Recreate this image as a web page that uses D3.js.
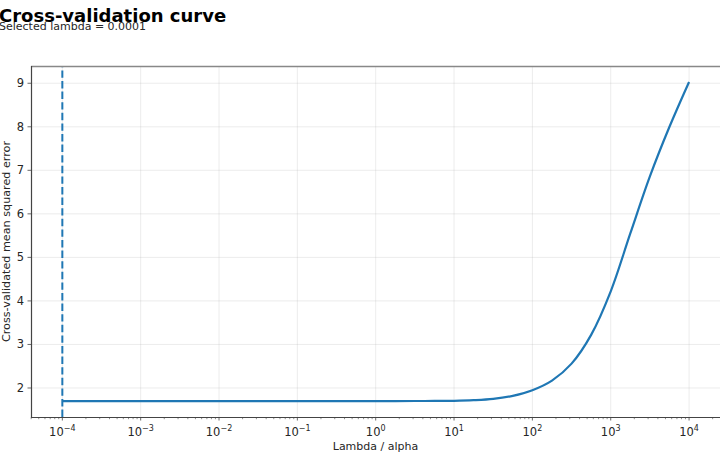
<!DOCTYPE html>
<html>
<head>
<meta charset="utf-8">
<script src="https://cdn.jsdelivr.net/npm/d3@7.9.0/dist/d3.min.js"></script>
<style>
  html, body { margin: 0; padding: 0; background: #fff; }
  svg { display: block; font-family: "DejaVu Sans", sans-serif; }
</style>
</head>
<body>
<div id="chart"></div>
<script>
// log10(lambda) grid and the cross-validated MSE
const logLambdas = [-4, -3.75, -3.5, -3.25, -3, -2.75, -2.5, -2.25, -2, -1.75, -1.5, -1.25, -1,
  -0.75, -0.5, -0.25, 0, 0.25, 0.5, 0.75, 1, 1.25, 1.5, 1.75, 2, 2.25, 2.5, 2.75, 3, 3.25, 3.5, 3.75, 4];
const cvErrors = [1.700, 1.700, 1.700, 1.700, 1.700, 1.700, 1.700, 1.700, 1.700, 1.700, 1.700, 1.700, 1.700,
  1.700, 1.700, 1.700, 1.700, 1.700, 1.701, 1.702, 1.706, 1.72, 1.75, 1.82, 1.95, 2.17, 2.56, 3.22, 4.22, 5.55, 6.86, 8.00, 9.03];
const selectedLambda = 0.0001;
const yTicks = [2, 3, 4, 5, 6, 7, 8, 9];
const xTickExps = [-4, -3, -2, -1, 0, 1, 2, 3, 4];

const data = logLambdas.map((e, i) => ({ lambda: Math.pow(10, e), mse: cvErrors[i] }));

const width = 720;
const height = 460;
const margin = { top: 66, right: 0, bottom: 43, left: 31 };
const blue = "#1f77b4";

// matplotlib-style 5% margins (in log space for x)
const lx = d3.extent(logLambdas);
const padX = (lx[1] - lx[0]) * 0.05;
const ly = d3.extent(cvErrors);
const padY = (ly[1] - ly[0]) * 0.05;

const xScale = d3.scaleLog()
  .domain([Math.pow(10, lx[0] - padX), Math.pow(10, lx[1] + padX)])
  .range([margin.left, width - margin.right + 0.4]);
const yScale = d3.scaleLinear()
  .domain([ly[0] - padY, ly[1] + padY])
  .range([height - margin.bottom, margin.top]);

const svg = d3.select("#chart").append("svg")
  .attr("width", width)
  .attr("height", height);

const x0 = margin.left, x1 = width - margin.right;
const y0 = height - margin.bottom, y1 = margin.top;

// grid
const grid = svg.append("g").attr("stroke", "#b0b0b0").attr("stroke-opacity", 0.3).attr("stroke-width", 0.8);
grid.selectAll("line.gx").data(xTickExps).join("line")
  .attr("x1", (d) => xScale(Math.pow(10, d))).attr("x2", (d) => xScale(Math.pow(10, d)))
  .attr("y1", y0).attr("y2", y1);
grid.selectAll("line.gy").data(yTicks).join("line")
  .attr("x1", x0).attr("x2", x1)
  .attr("y1", (d) => yScale(d)).attr("y2", (d) => yScale(d));

// curve
const line = d3.line()
  .x((d) => xScale(d.lambda))
  .y((d) => yScale(d.mse))
  .curve(d3.curveCatmullRom.alpha(0.5));

svg.append("path")
  .datum(data)
  .attr("fill", "none")
  .attr("stroke", blue)
  .attr("stroke-width", 2.2)
  .attr("d", line);

// selected lambda
svg.append("line")
  .attr("x1", xScale(selectedLambda)).attr("x2", xScale(selectedLambda))
  .attr("y1", y0).attr("y2", y1)
  .attr("stroke", blue)
  .attr("stroke-width", 2)
  .attr("stroke-dasharray", "7.4,3.2");

// spines
svg.append("line").attr("x1", x0).attr("x2", x1).attr("y1", y1 + 0.5).attr("y2", y1 + 0.5)
  .attr("stroke", "#888").attr("stroke-width", 1.5);
svg.append("line").attr("x1", x0 + 0.5).attr("x2", x0 + 0.5).attr("y1", y1).attr("y2", y0)
  .attr("stroke", "#444").attr("stroke-width", 1.2);
svg.append("line").attr("x1", x0).attr("x2", x1).attr("y1", y0 + 0.5).attr("y2", y0 + 0.5)
  .attr("stroke", "#444").attr("stroke-width", 1.2);

// x minor ticks
const minor = [];
for (let e = -5; e <= 4; e++) {
  for (let m = 2; m <= 9; m++) {
    const v = m * Math.pow(10, e);
    if (v >= xScale.domain()[0] && v <= xScale.domain()[1]) minor.push(v);
  }
}
svg.append("g").selectAll("line").data(minor).join("line")
  .attr("x1", (d) => xScale(d)).attr("x2", (d) => xScale(d))
  .attr("y1", y0).attr("y2", y0 + 2.2)
  .attr("stroke", "#444").attr("stroke-width", 0.6);

// x major ticks + labels
const xt = svg.append("g").selectAll("g").data(xTickExps).join("g")
  .attr("transform", (d) => `translate(${xScale(Math.pow(10, d))},${y0})`);
xt.append("line").attr("y1", 0).attr("y2", 3.5).attr("stroke", "#444").attr("stroke-width", 0.8);
const xl = xt.append("text")
  .attr("y", 19)
  .attr("text-anchor", "middle")
  .attr("font-size", 11.5)
  .attr("fill", "#262626");
xl.append("tspan").text("10");
xl.append("tspan").attr("dy", -5).attr("font-size", 8)
  .text((d) => (d < 0 ? "\u2212" + Math.abs(d) : String(d)));

// y ticks + labels
const yt = svg.append("g").selectAll("g").data(yTicks).join("g")
  .attr("transform", (d) => `translate(${x0},${yScale(d)})`);
yt.append("line").attr("x1", 0).attr("x2", -3.5).attr("stroke", "#444").attr("stroke-width", 0.8);
yt.append("text")
  .attr("x", -7)
  .attr("dy", "0.35em")
  .attr("text-anchor", "end")
  .attr("font-size", 11.5)
  .attr("fill", "#262626")
  .text((d) => d);

// axis labels
svg.append("text")
  .attr("x", (x0 + x1) / 2)
  .attr("y", 450)
  .attr("text-anchor", "middle")
  .attr("font-size", 11)
  .attr("fill", "#262626")
  .text("Lambda / alpha");

svg.append("text")
  .attr("transform", `translate(10,${(y0 + y1) / 2}) rotate(-90)`)
  .attr("text-anchor", "middle")
  .attr("font-size", 11.2)
  .attr("fill", "#262626")
  .text("Cross-validated mean squared error");

// titles
svg.append("text")
  .attr("x", -1)
  .attr("y", 22)
  .attr("font-size", 18)
  .attr("font-weight", "bold")
  .attr("fill", "#000")
  .text("Cross-validation curve");

svg.append("text")
  .attr("x", -1)
  .attr("y", 30)
  .attr("font-size", 11)
  .attr("fill", "#262626")
  .text("Selected lambda = 0.0001");
</script>
</body>
</html>
